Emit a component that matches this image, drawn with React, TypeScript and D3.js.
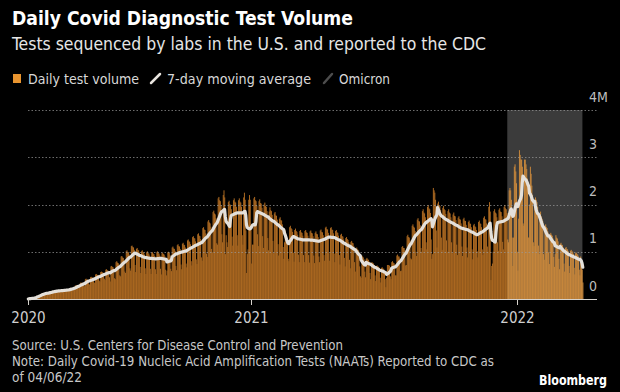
import React, { useEffect, useRef } from "react";
import * as d3 from "d3";

// Daily test volume, millions of tests. One row per week (Sun..Sat), starting 2020-03-01.
const startDate = "2020-03-01";

// 2020-03-01 .. 2021-01-02
const wave2020 = [
  0.00, 0.01, 0.01, 0.01, 0.02, 0.02, 0.02,
  0.02, 0.03, 0.04, 0.05, 0.06, 0.07, 0.06,
  0.06, 0.08, 0.09, 0.10, 0.11, 0.12, 0.10,
  0.10, 0.12, 0.13, 0.13, 0.14, 0.13, 0.11,
  0.12, 0.15, 0.16, 0.16, 0.16, 0.16, 0.14,
  0.14, 0.18, 0.18, 0.18, 0.18, 0.18, 0.15,
  0.15, 0.19, 0.19, 0.19, 0.19, 0.19, 0.16,
  0.16, 0.20, 0.21, 0.20, 0.20, 0.20, 0.17,
  0.18, 0.23, 0.24, 0.23, 0.23, 0.23, 0.20,
  0.22, 0.28, 0.29, 0.29, 0.29, 0.28, 0.24,
  0.26, 0.34, 0.35, 0.34, 0.34, 0.34, 0.29,
  0.27, 0.42, 0.43, 0.41, 0.41, 0.40, 0.32,
  0.30, 0.46, 0.47, 0.46, 0.45, 0.45, 0.35,
  0.34, 0.52, 0.53, 0.51, 0.51, 0.50, 0.39,
  0.37, 0.57, 0.58, 0.57, 0.56, 0.55, 0.43,
  0.40, 0.62, 0.63, 0.61, 0.60, 0.59, 0.46,
  0.37, 0.69, 0.70, 0.68, 0.67, 0.64, 0.44,
  0.42, 0.78, 0.80, 0.77, 0.76, 0.73, 0.50,
  0.48, 0.90, 0.91, 0.88, 0.87, 0.83, 0.58,
  0.55, 1.01, 1.03, 0.99, 0.99, 0.94, 0.65,
  0.60, 1.12, 1.13, 1.10, 1.09, 1.04, 0.72,
  0.57, 1.06, 1.08, 1.04, 1.03, 0.98, 0.68,
  0.55, 1.01, 1.03, 0.99, 0.99, 0.94, 0.65,
  0.53, 0.99, 1.01, 0.97, 0.96, 0.92, 0.64,
  0.53, 0.98, 0.99, 0.96, 0.95, 0.91, 0.63,
  0.53, 0.99, 1.01, 0.97, 0.96, 0.92, 0.64,
  0.52, 0.97, 0.98, 0.95, 0.94, 0.90, 0.62,
  0.50, 0.60, 0.99, 1.00, 0.98, 0.93, 0.64,
  0.59, 1.09, 1.11, 1.07, 1.06, 1.02, 0.70,
  0.61, 1.14, 1.16, 1.12, 1.11, 1.06, 0.73,
  0.63, 1.17, 1.19, 1.15, 1.14, 1.09, 0.75,
  0.67, 1.24, 1.26, 1.22, 1.21, 1.16, 0.80,
  0.71, 1.31, 1.33, 1.29, 1.28, 1.22, 0.84,
  0.74, 1.37, 1.39, 1.34, 1.33, 1.27, 0.88,
  0.81, 1.50, 1.52, 1.47, 1.46, 1.39, 0.96,
  0.89, 1.64, 1.67, 1.62, 1.60, 1.53, 1.06,
  0.99, 1.84, 1.87, 1.81, 1.79, 1.71, 1.18,
  1.15, 2.13, 2.16, 2.09, 2.07, 1.98, 1.37,
  1.20, 2.20, 2.30, 2.15, 0.95, 1.35, 1.20,
  1.10, 2.05, 2.08, 2.01, 1.99, 1.90, 1.32,
  1.13, 2.09, 2.13, 2.06, 2.04, 1.95, 1.35,
  1.13, 2.09, 2.13, 2.06, 2.04, 1.95, 1.35,
  1.15, 2.15, 2.25, 2.10, 1.45, 0.55, 0.95,
  1.05, 2.10, 2.20, 2.10, 1.55, 0.75, 1.15,
];

// 2021-01-03 .. 2021-12-25
const wave2021 = [
  1.15, 2.13, 2.16, 2.09, 2.07, 1.98, 1.37,
  1.12, 2.07, 2.11, 2.03, 2.02, 1.93, 1.33,
  1.08, 2.00, 2.04, 1.97, 1.95, 1.86, 1.29,
  1.03, 1.85, 1.94, 1.88, 1.86, 1.78, 1.23,
  0.97, 1.81, 1.84, 1.77, 1.76, 1.68, 1.16,
  0.92, 1.70, 1.73, 1.67, 1.66, 1.58, 1.10,
  0.85, 1.20, 1.45, 1.35, 1.30, 1.25, 0.85,
  0.80, 1.52, 1.55, 1.50, 1.48, 1.42, 0.98,
  0.79, 1.46, 1.49, 1.44, 1.42, 1.36, 0.94,
  0.78, 1.44, 1.46, 1.41, 1.40, 1.34, 0.93,
  0.78, 1.44, 1.46, 1.41, 1.40, 1.34, 0.93,
  0.77, 1.43, 1.45, 1.40, 1.39, 1.33, 0.92,
  0.76, 1.40, 1.43, 1.38, 1.37, 1.31, 0.90,
  0.78, 1.45, 1.47, 1.42, 1.41, 1.35, 0.93,
  0.81, 1.51, 1.53, 1.48, 1.47, 1.40, 0.97,
  0.81, 1.50, 1.52, 1.47, 1.46, 1.39, 0.96,
  0.78, 1.44, 1.46, 1.41, 1.40, 1.34, 0.93,
  0.73, 1.36, 1.38, 1.33, 1.32, 1.26, 0.87,
  0.69, 1.29, 1.31, 1.27, 1.25, 1.20, 0.83,
  0.65, 1.21, 1.23, 1.19, 1.18, 1.12, 0.78,
  0.58, 1.07, 1.09, 1.05, 1.04, 1.00, 0.69,
  0.48, 0.45, 0.92, 0.90, 0.88, 0.84, 0.58,
  0.46, 0.85, 0.87, 0.84, 0.83, 0.79, 0.55,
  0.42, 0.77, 0.78, 0.76, 0.75, 0.72, 0.50,
  0.38, 0.70, 0.71, 0.69, 0.68, 0.65, 0.45,
  0.35, 0.66, 0.67, 0.64, 0.64, 0.58, 0.42,
  0.25, 0.45, 0.72, 0.72, 0.72, 0.70, 0.48,
  0.42, 0.78, 0.80, 0.77, 0.76, 0.73, 0.50,
  0.50, 0.92, 0.94, 0.90, 0.90, 0.86, 0.59,
  0.60, 1.10, 1.12, 1.08, 1.08, 1.03, 0.71,
  0.72, 1.33, 1.36, 1.31, 1.30, 1.24, 0.86,
  0.84, 1.55, 1.58, 1.53, 1.51, 1.44, 1.00,
  0.91, 1.68, 1.71, 1.65, 1.64, 1.56, 1.08,
  1.00, 1.86, 1.90, 1.83, 1.81, 1.73, 1.20,
  1.05, 1.95, 1.99, 1.92, 1.90, 1.82, 1.26,
  0.85, 0.95, 2.35, 2.30, 2.25, 2.10, 1.45,
  1.09, 2.02, 2.06, 1.99, 1.97, 1.88, 1.30,
  1.04, 1.93, 1.97, 1.90, 1.88, 1.80, 1.24,
  1.00, 1.86, 1.90, 1.83, 1.81, 1.73, 1.20,
  0.97, 1.79, 1.83, 1.76, 1.75, 1.67, 1.15,
  0.93, 1.72, 1.75, 1.69, 1.68, 1.60, 1.11,
  0.91, 1.69, 1.72, 1.66, 1.65, 1.57, 1.09,
  0.88, 1.63, 1.66, 1.60, 1.59, 1.52, 1.05,
  0.84, 1.56, 1.59, 1.54, 1.52, 1.46, 1.01,
  0.88, 1.63, 1.66, 1.60, 1.59, 1.52, 1.05,
  0.93, 1.72, 1.75, 1.69, 1.68, 1.60, 1.11,
  1.00, 1.95, 2.05, 1.85, 0.40, 0.70, 0.75,
  1.00, 1.86, 1.90, 1.83, 1.81, 1.73, 1.20,
  1.02, 1.89, 1.92, 1.85, 1.84, 1.75, 1.21,
  1.05, 1.95, 1.99, 1.92, 1.90, 1.82, 1.26,
  1.20, 2.30, 2.35, 2.30, 2.10, 1.30, 0.70,
];

// 2021-12-26 .. 2022-03-31
const wave2022 = [
  1.30, 2.80, 2.85, 2.70, 2.45, 1.00, 0.60,
  1.70, 3.15, 3.05, 2.95, 2.95, 2.80, 1.60,
  1.55, 2.95, 2.95, 2.85, 2.75, 2.55, 1.30,
  1.30, 2.00, 2.80, 2.65, 2.40, 2.20, 1.20,
  1.12, 2.10, 2.15, 2.10, 2.05, 1.95, 1.13,
  0.95, 1.80, 1.85, 1.75, 1.70, 1.65, 0.95,
  0.83, 1.55, 1.58, 1.52, 1.50, 1.43, 0.99,
  0.74, 1.38, 1.40, 1.36, 1.34, 1.28, 0.89,
  0.68, 0.95, 1.35, 1.30, 1.28, 1.22, 0.85,
  0.63, 1.17, 1.19, 1.15, 1.14, 1.09, 0.75,
  0.58, 1.08, 1.10, 1.06, 1.05, 1.01, 0.70,
  0.55, 1.02, 1.04, 1.01, 1.00, 0.95, 0.66,
  0.52, 0.97, 0.98, 0.95, 0.94, 0.90, 0.62,
  0.50, 0.90, 0.82, 0.62, 0.35,
];

const omicronStart = "2021-12-18";
const axisEnd = "2022-04-20";
const xTicks = ["2020-03-01", "2021-01-01", "2022-01-01"];
const xTickLabels = ["2020", "2021", "2022"];
const yTicks = [0, 1, 2, 3, 4];
const yTickLabels = ["0", "1", "2", "3", "4M"];

const width = 620;
const height = 392;
const font = "'Liberation Sans Narrow', 'DejaVu Sans Condensed', 'Roboto', sans-serif";

const App: React.FC = () => {
  const svgRef = useRef<SVGSVGElement>(null);

  useEffect(() => {
    if (!svgRef.current) return;
    document.body.style.margin = "0";
    document.body.style.background = "#000";

    const svg = d3.select(svgRef.current);
    svg.selectAll("*").remove();

    const parse = d3.utcParse("%Y-%m-%d");
    const start = parse(startDate)!;
    const omicron = parse(omicronStart)!;
    const values = [...wave2020, ...wave2021, ...wave2022];
    const data = values.map((v, i) => ({ date: d3.utcDay.offset(start, i), value: v }));
    // trailing 7-day average
    const avg = data.map((d, i) => ({
      date: d.date,
      value: d3.mean(data.slice(Math.max(0, i - 6), i + 1), (e) => e.value) as number,
    }));

    const x = d3.scaleUtc().domain([start, parse(axisEnd)!]).range([28, 597]);
    const y = d3.scaleLinear().domain([0, 4]).range([299, 110]);
    const dayW = x(d3.utcDay.offset(start, 1)) - x(start);
    const last = data[data.length - 1].date;

    svg.append("rect").attr("width", width).attr("height", height).attr("fill", "#000");

    // Omicron period
    svg
      .append("rect")
      .attr("x", x(omicron))
      .attr("width", x(last) - x(omicron))
      .attr("y", y(4))
      .attr("height", y(0) - y(4))
      .attr("fill", "#3b3b3b");

    // daily bars
    svg
      .append("g")
      .selectAll("rect")
      .data(data)
      .join("rect")
      .attr("x", (d) => x(d.date))
      .attr("width", dayW + 0.25)
      .attr("y", (d) => y(d.value))
      .attr("height", (d) => y(0) - y(d.value))
      .attr("fill", (d) => (d.date >= omicron ? "#c9883c" : "#ad6a22"));

    // gridlines
    svg
      .append("g")
      .selectAll("line")
      .data(yTicks.slice(1))
      .join("line")
      .attr("x1", 28)
      .attr("x2", 597)
      .attr("y1", (d) => Math.round(y(d)) + 0.5)
      .attr("y2", (d) => Math.round(y(d)) + 0.5)
      .attr("stroke", "#9a9a9a")
      .attr("stroke-opacity", 0.7)
      .attr("stroke-dasharray", "1.5,2");

    // baseline
    svg
      .append("line")
      .attr("x1", 28)
      .attr("x2", 597)
      .attr("y1", y(0) + 0.5)
      .attr("y2", y(0) + 0.5)
      .attr("stroke", "#d6d2cc")
      .attr("stroke-width", 1.2);

    // moving average
    const line = d3
      .line<{ date: Date; value: number }>()
      .x((d) => x(d.date) + dayW / 2)
      .y((d) => y(d.value));
    svg
      .append("path")
      .datum(avg)
      .attr("fill", "none")
      .attr("stroke", "#e4e0da")
      .attr("stroke-width", 3.2)
      .attr("stroke-linejoin", "round")
      .attr("stroke-linecap", "round")
      .attr("d", line);

    // x axis
    const xg = svg.append("g");
    xTicks.forEach((t, i) => {
      const px = Math.round(x(parse(t)!)) + 0.5;
      xg.append("line")
        .attr("x1", px)
        .attr("x2", px)
        .attr("y1", y(0))
        .attr("y2", y(0) + 6)
        .attr("stroke", "#d6d2cc");
      xg.append("text")
        .attr("x", px)
        .attr("y", 323)
        .attr("text-anchor", "middle")
        .attr("fill", "#cfcfcf")
        .attr("font-family", font)
        .attr("font-size", 15)
        .text(xTickLabels[i]);
    });

    // y labels
    svg
      .append("g")
      .selectAll("text")
      .data(yTicks)
      .join("text")
      .attr("x", 589)
      .attr("y", (d) => y(d) - 8.5)
      .attr("fill", "#bdbdbd")
      .attr("font-family", font)
      .attr("font-size", 14)
      .text((d, i) => yTickLabels[i]);

    // titles
    const addText = (
      s: string,
      tx: number,
      ty: number,
      size: number,
      fill: string,
      len?: number,
      weight = "normal"
    ) => {
      const t = svg
        .append("text")
        .attr("x", tx)
        .attr("y", ty)
        .attr("fill", fill)
        .attr("font-family", font)
        .attr("font-size", size)
        .attr("font-weight", weight)
        .text(s);
      if (len) t.attr("textLength", len).attr("lengthAdjust", "spacingAndGlyphs");
      return t;
    };

    addText("Daily Covid Diagnostic Test Volume", 12, 25, 20, "#ffffff", 341, "bold");
    addText("Tests sequenced by labs in the U.S. and reported to the CDC", 12, 50, 18.5, "#e6e6e6", 474);

    // legend
    svg.append("rect").attr("x", 13).attr("y", 74).attr("width", 8).attr("height", 9).attr("fill", "#e8942f");
    addText("Daily test volume", 28, 84, 14.5, "#d8d8d8", 111);
    svg
      .append("line")
      .attr("x1", 151).attr("y1", 83).attr("x2", 160).attr("y2", 74)
      .attr("stroke", "#e8e4de").attr("stroke-width", 2.5).attr("stroke-linecap", "round");
    addText("7-day moving average", 167, 84, 14.5, "#d8d8d8", 144);
    svg
      .append("line")
      .attr("x1", 324).attr("y1", 83).attr("x2", 332).attr("y2", 74)
      .attr("stroke", "#4d4d4d").attr("stroke-width", 2.5).attr("stroke-linecap", "round");
    addText("Omicron", 339, 84, 14.5, "#d8d8d8", 51);

    // footer
    addText("Source: U.S. Centers for Disease Control and Prevention", 12, 350, 13.5, "#c8c8c8", 331);
    addText(
      "Note: Daily Covid-19 Nucleic Acid Amplification Tests (NAATs) Reported to CDC as",
      12, 366, 13.5, "#c8c8c8", 482
    );
    addText("of 04/06/22", 12, 382, 13.5, "#c8c8c8", 70);
    addText("Bloomberg", 539, 385, 14, "#ffffff", 68, "bold");
  }, []);

  return <svg ref={svgRef} width={width} height={height} style={{ display: "block" }} />;
};

export default App;
